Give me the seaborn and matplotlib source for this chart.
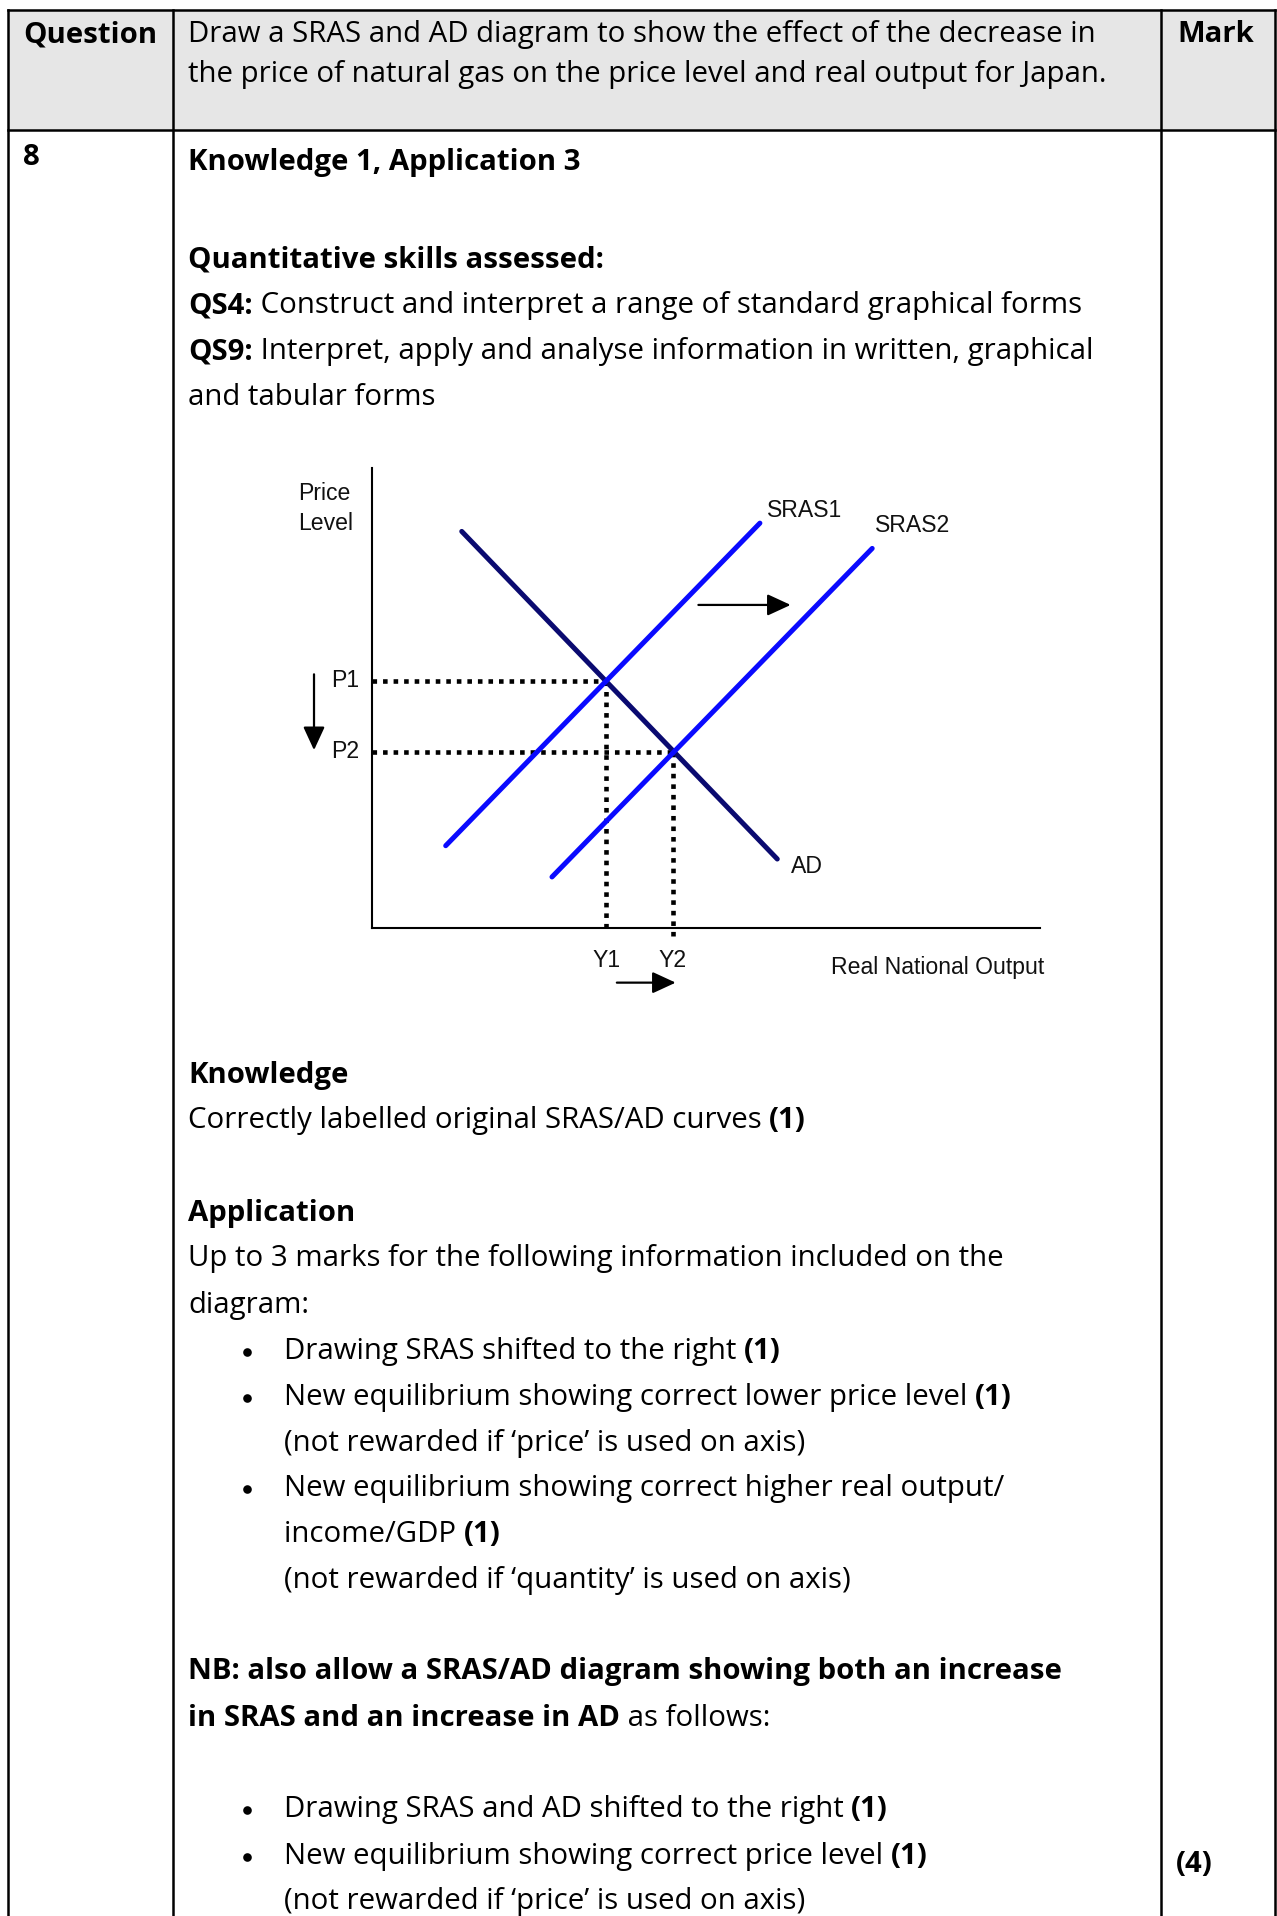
import matplotlib
matplotlib.use("Agg")
import matplotlib.pyplot as plt
import seaborn as sns
import pandas as pd
from matplotlib.patches import Rectangle

sns.set_theme(style="white")
plt.rcParams["font.family"] = ["Open Sans", "DejaVu Sans"]

# --- diagram data (abstract units, axes run 0..100) ---
curve_names = ["AD", "SRAS1", "SRAS2"]
curve_x = [[13.5, 60.7], [11.1, 58.1], [27.0, 74.9]]
curve_y = [[86.2, 14.9], [17.8, 88.0], [11.0, 82.5]]
curve_colors = {"AD": "#0A0A70", "SRAS1": "#0A0AFF", "SRAS2": "#0A0AFF"}
price_levels = [53.7, 38.3]      # P1, P2
outputs = [35.1, 45.1]           # Y1, Y2
price_labels = ["P1", "P2"]
output_labels = ["Y1", "Y2"]

# --- page text ---
header_question = "Question"
header_text = ["Draw a SRAS and AD diagram to show the effect of the decrease in",
               "the price of natural gas on the price level and real output for Japan."]
header_mark = "Mark"
question_no = "8"
mark_total = "(4)"

# (y centre in px, x in px, [(text, bold), ...])
body_lines = [
    (160, 188, [("Knowledge 1, Application 3", True)]),
    (257, 188, [("Quantitative skills assessed:", True)]),
    (303, 188, [("QS4:", True), (" Construct and interpret a range of standard graphical forms", False)]),
    (349, 188, [("QS9:", True), (" Interpret, apply and analyse information in written, graphical", False)]),
    (395, 188, [("and tabular forms", False)]),
    (1073, 188, [("Knowledge", True)]),
    (1118, 188, [("Correctly labelled original SRAS/AD curves ", False), ("(1)", True)]),
    (1211, 188, [("Application", True)]),
    (1256, 188, [("Up to 3 marks for the following information included on the", False)]),
    (1303, 188, [("diagram:", False)]),
    (1349, 284, [("Drawing SRAS shifted to the right ", False), ("(1)", True)]),
    (1395, 284, [("New equilibrium showing correct lower price level ", False), ("(1)", True)]),
    (1441, 284, [("(not rewarded if \u2018price\u2019 is used on axis)", False)]),
    (1486, 284, [("New equilibrium showing correct higher real output/", False)]),
    (1532, 284, [("income/GDP ", False), ("(1)", True)]),
    (1578, 284, [("(not rewarded if \u2018quantity\u2019 is used on axis)", False)]),
    (1669, 188, [("NB: also allow a SRAS/AD diagram showing both an increase", True)]),
    (1716, 188, [("in SRAS and an increase in AD", True), (" as follows:", False)]),
    (1807, 284, [("Drawing SRAS and AD shifted to the right ", False), ("(1)", True)]),
    (1854, 284, [("New equilibrium showing correct price level ", False), ("(1)", True)]),
    (1899, 284, [("(not rewarded if \u2018price\u2019 is used on axis)", False)]),
]
bullet_rows = [1349, 1395, 1486, 1807, 1854]

W, H = 1277, 1916
FS = 21.2
DY = 2.5
fig = plt.figure(figsize=(W / 100, H / 100), dpi=100)
page = fig.add_axes([0, 0, 1, 1])
page.set_xlim(0, W)
page.set_ylim(H, 0)
page.axis("off")
renderer = fig.canvas.get_renderer()

# table frame
page.add_patch(Rectangle((8, 10), 1267, 120, fc="#E6E6E6", ec="none", zorder=0))
lw_tab = 1.8
for yy in [10, 130]:
    page.plot([8, 1275], [yy, yy], color="black", lw=lw_tab, solid_capstyle="projecting")
for xx in [8, 173, 1161, 1275]:
    page.plot([xx, xx], [10, H + 5], color="black", lw=lw_tab, solid_capstyle="projecting")


def put(x, y, segs, fs=FS):
    for s, b in segs:
        t = page.text(x, y + DY, s, fontsize=fs, fontweight="bold" if b else "normal",
                      ha="left", va="center", color="black")
        x += t.get_window_extent(renderer=renderer).width


put(23, 32, [(header_question, True)])
put(188, 32, [(header_text[0], False)])
put(188, 72, [(header_text[1], False)])
put(1177, 32, [(header_mark, True)])
put(23, 155, [(question_no, True)])
put(1176, 1862, [(mark_total, True)])

for y, x, segs in body_lines:
    put(x, y, segs)
page.plot([247] * len(bullet_rows), [y + DY for y in bullet_rows], "o",
          color="black", markersize=6.2, markeredgewidth=0)

# --- SRAS / AD diagram ---
x0, y0, aw, ah = 371.5, 927.5, 668.5, 459.5
ax = fig.add_axes([x0 / W, (H - y0) / H, aw / W, ah / H])
ax.set_xlim(0, 100)
ax.set_ylim(0, 100)
ax.set_facecolor("none")

rows = []
for name, xs, ys in zip(curve_names, curve_x, curve_y):
    for xv, yv in zip(xs, ys):
        rows.append({"curve": name, "x": xv, "y": yv})
df = pd.DataFrame(rows)
sns.lineplot(data=df, x="x", y="y", hue="curve", palette=curve_colors,
             estimator=None, legend=False, lw=3.6, ax=ax, zorder=3)

dot = dict(color="black", lw=3.3, linestyle=(0, (1, 1.3)), dash_capstyle="butt", zorder=2)
ax.plot([0, outputs[0]], [price_levels[0]] * 2, **dot)
ax.plot([0, outputs[1]], [price_levels[1]] * 2, **dot)
ax.plot([outputs[0]] * 2, [0, price_levels[0]], **dot)
ax.plot([outputs[1]] * 2, [-1.8, price_levels[1]], clip_on=False, **dot)

for s in ["top", "right"]:
    ax.spines[s].set_visible(False)
for s in ["left", "bottom"]:
    ax.spines[s].set_color("black")
    ax.spines[s].set_linewidth(1.5)
ax.set_xticks([])
ax.set_yticks([])
ax.set_xlabel("")
ax.set_ylabel("")

lab = dict(fontsize=16.6, family=["Liberation Sans", "DejaVu Sans"], color="#111111", clip_on=False)
ax.text(-11.0, 91.2, "Price\nLevel", ha="left", va="center", linespacing=1.4, **lab)
ax.text(59.2, 90.7, "SRAS1", ha="left", va="center", **lab)
ax.text(75.3, 87.5, "SRAS2", ha="left", va="center", **lab)
ax.text(62.7, 13.3, "AD", ha="left", va="center", **lab)
for p, t in zip(price_levels, price_labels):
    ax.text(-1.8, p, t, ha="right", va="center", **lab)
for q, t in zip(outputs, output_labels):
    ax.text(q, -7.2, t, ha="center", va="center", **lab)
ax.text(68.7, -8.8, "Real National Output", ha="left", va="center", **lab)

arr = dict(arrowstyle="-|>,head_length=0.65,head_width=0.3", color="black", lw=1.6,
           mutation_scale=22, shrinkA=0, shrinkB=0)
ax.annotate("", xy=(62.7, 70.2), xytext=(48.9, 70.2), arrowprops=arr, annotation_clip=False)
ax.annotate("", xy=(-8.6, 38.6), xytext=(-8.6, 55.1), arrowprops=arr, annotation_clip=False)
ax.annotate("", xy=(45.5, -12.0), xytext=(36.7, -12.0), arrowprops=arr, annotation_clip=False)

fig.savefig("out.png", dpi=100, facecolor="white")
